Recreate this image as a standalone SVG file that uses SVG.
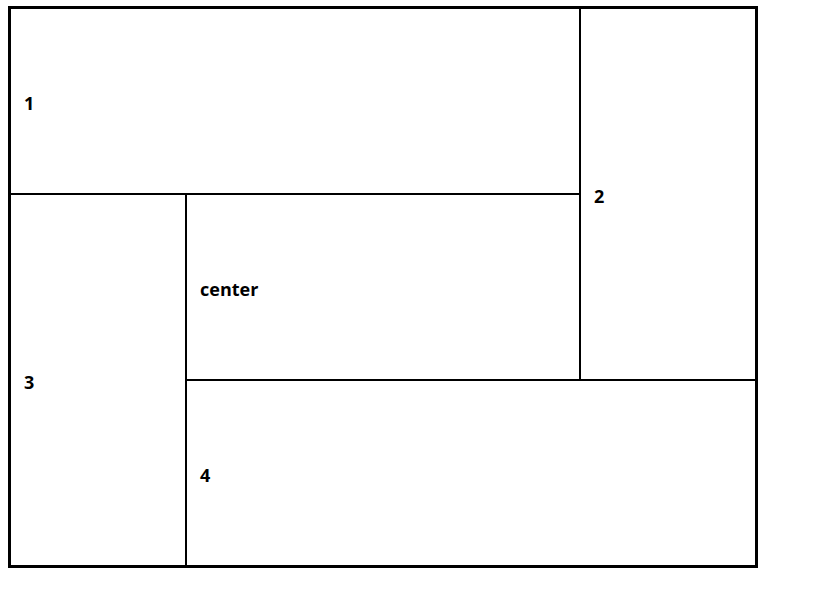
<svg xmlns="http://www.w3.org/2000/svg" width="828" height="611" viewBox="0 0 828 611">
<style>
.lbl{font-family:"Open Sans","Liberation Sans",sans-serif;font-weight:bold;font-size:18px;fill:#000}
.ln{stroke:#000;stroke-width:2;fill:none}
</style>
<rect x="0" y="0" width="828" height="611" fill="#fff"/>
<g id="connectors">
<line class="ln" x1="9" y1="194" x2="580" y2="194"/>
<line class="ln" x1="580" y1="7" x2="580" y2="380"/>
<line class="ln" x1="186" y1="194" x2="186" y2="567"/>
<line class="ln" x1="186" y1="380" x2="757" y2="380"/>
</g>
<g id="frame"><rect x="9.5" y="7.5" width="747" height="559" fill="none" stroke="#000" stroke-width="3"/></g>
<g id="n1"><text class="lbl" x="24" y="110">1</text></g>
<g id="n2"><text class="lbl" x="594" y="203">2</text></g>
<g id="ncenter"><text class="lbl" x="200" y="296">center</text></g>
<g id="n3"><text class="lbl" x="24" y="389">3</text></g>
<g id="n4"><text class="lbl" x="200" y="482">4</text></g>
</svg>
